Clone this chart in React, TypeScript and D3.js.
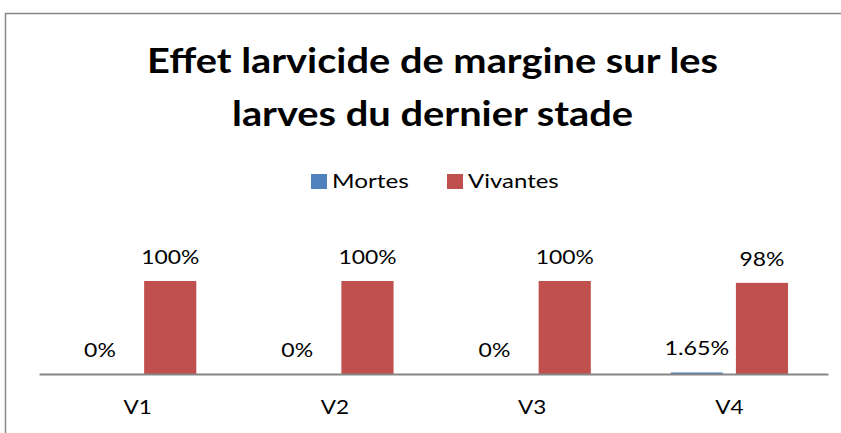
import React, { useEffect, useRef } from 'react';
import * as d3 from 'd3';

const categories = ['V1', 'V2', 'V3', 'V4'];
const seriesNames = ['Mortes', 'Vivantes'];
const mortes = [0, 0, 0, 1.65];
const vivantes = [100, 100, 100, 98];
const mortesLabels = ['0%', '0%', '0%', '1.65%'];
const vivantesLabels = ['100%', '100%', '100%', '98%'];
const titleLines = ['Effet larvicide de margine sur les', 'larves du dernier stade'];
const colors = ['#4F81BD', '#C0504D'];

const W = 841;
const H = 433;
const FONT = 'Lato, "Open Sans", sans-serif';

// approximate Calibri advance widths (em), the reference's font
const calibri: Record<string, number> = {
  '0': 0.507, '1': 0.507, '2': 0.507, '3': 0.507, '4': 0.507, '5': 0.507,
  '6': 0.507, '7': 0.507, '8': 0.507, '9': 0.507, '.': 0.252, '%': 0.715,
  V: 0.579, M: 0.855, o: 0.527, r: 0.349, t: 0.335, e: 0.498, s: 0.391,
  i: 0.229, v: 0.452, a: 0.479, n: 0.525,
};
const textWidth = (s: string, pxPerEm: number) =>
  s.split('').reduce((acc, ch) => acc + (calibri[ch] ?? 0.5), 0) * pxPerEm;
const PX_EM = 26;

const Chart: React.FC = () => {
  const svgRef = useRef<SVGSVGElement>(null);

  useEffect(() => {
    if (!svgRef.current) return;
    const svg = d3.select(svgRef.current);
    svg.selectAll('*').remove();

    svg.append('rect').attr('width', W).attr('height', H).attr('fill', 'white');

    // chart frame, clipped by the picture on right and bottom
    svg
      .append('rect')
      .attr('x', 5.5)
      .attr('y', 13.5)
      .attr('width', 900)
      .attr('height', 500)
      .attr('fill', 'white')
      .attr('stroke', '#888')
      .attr('stroke-width', 1.5);

    // title
    const titleW = [571, 401];
    const titleY = [73, 126];
    titleLines.forEach((line, i) => {
      svg
        .append('text')
        .attr('x', 432.5)
        .attr('y', titleY[i])
        .attr('text-anchor', 'middle')
        .attr('font-family', FONT)
        .attr('font-weight', 'bold')
        .attr('font-size', 34)
        .attr('textLength', titleW[i])
        .attr('lengthAdjust', 'spacingAndGlyphs')
        .attr('fill', '#000')
        .text(line);
    });

    // legend
    const legendX = [311, 447];
    seriesNames.forEach((name, i) => {
      svg
        .append('rect')
        .attr('x', legendX[i])
        .attr('y', 174)
        .attr('width', 16)
        .attr('height', 15)
        .attr('fill', colors[i]);
      svg
        .append('text')
        .attr('x', legendX[i] + 21)
        .attr('y', 188)
        .attr('font-family', FONT)
        .attr('font-size', 19)
        .attr('textLength', textWidth(name, PX_EM))
        .attr('lengthAdjust', 'spacingAndGlyphs')
        .attr('fill', '#000')
        .text(name);
    });

    const x0 = d3.scaleBand().domain(categories).range([39, 828]).paddingInner(0.405).paddingOuter(0.2025);
    const x1 = d3.scaleBand().domain(seriesNames).range([0, x0.bandwidth()]).paddingInner(0.2);
    const y = d3.scaleLinear().domain([0, 100]).range([374, 281]);

    const data = [mortes, vivantes];
    const labels = [mortesLabels, vivantesLabels];

    seriesNames.forEach((name, s) => {
      categories.forEach((c, i) => {
        const v = data[s][i];
        const bx = (x0(c) ?? 0) + (x1(name) ?? 0);
        svg
          .append('rect')
          .attr('x', bx)
          .attr('y', y(v))
          .attr('width', x1.bandwidth())
          .attr('height', y(0) - y(v))
          .attr('fill', colors[s]);
        const lbl = labels[s][i];
        svg
          .append('text')
          .attr('x', bx + x1.bandwidth() / 2 - (s === 0 && v === 0 ? 5 : 0))
          .attr('y', y(v) - 17)
          .attr('text-anchor', 'middle')
          .attr('font-family', FONT)
          .attr('font-size', 19)
          .attr('textLength', textWidth(lbl, PX_EM))
          .attr('lengthAdjust', 'spacingAndGlyphs')
          .attr('fill', '#000')
          .text(lbl);
      });
    });

    // axis
    const axisG = svg.append('g').attr('transform', 'translate(0,374)');
    axisG
      .call(d3.axisBottom(x0.copy().paddingInner(0).paddingOuter(0)).tickSize(0).tickPadding(27))
      .call((g) => g.select('.domain').attr('stroke', '#868686').attr('stroke-width', 2))
      .call((g) =>
        g
          .selectAll<SVGTextElement, string>('text')
          .attr('font-family', FONT)
          .attr('font-size', 19)
          .attr('textLength', (d) => textWidth(d, PX_EM))
          .attr('lengthAdjust', 'spacingAndGlyphs')
          .attr('fill', '#000')
      );
  }, []);

  return (
    <svg
      ref={svgRef}
      width={W}
      height={H}
      style={{ position: 'absolute', left: 0, top: 0, display: 'block' }}
    />
  );
};

export default function App() {
  return <Chart />;
}
